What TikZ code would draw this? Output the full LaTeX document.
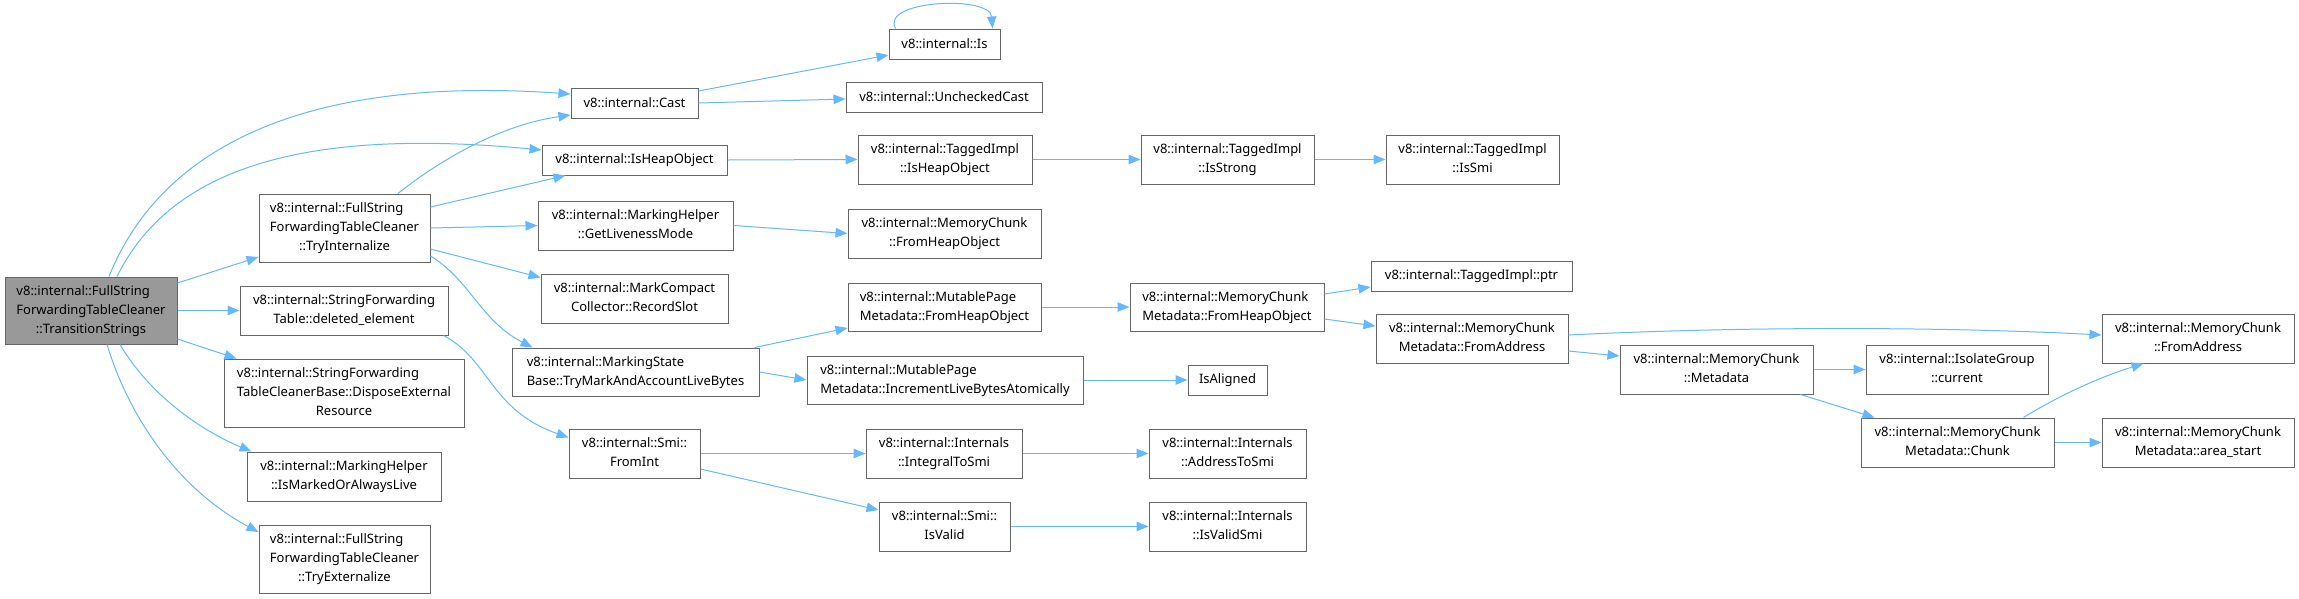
\documentclass[tikz,border=0pt]{standalone}
\usepackage{fontspec}
\setmainfont{Noto Sans}
\usetikzlibrary{arrows.meta}
\definecolor{edgec}{HTML}{63B8FF}
\definecolor{boxc}{HTML}{666666}
\definecolor{rootc}{HTML}{999999}
\newcommand\twol[2]{\begin{tabular}{@{}l@{}}#1\\\multicolumn{1}{@{}c@{}}{#2}\end{tabular}}
\newcommand\threel[3]{\begin{tabular}{@{}l@{}}#1\\#2\\\multicolumn{1}{@{}c@{}}{#3}\end{tabular}}
\tikzset{
  fn/.style={draw=boxc, line width=1pt, fill=white, inner sep=0pt, font=\fontsize{13}{19}\selectfont, align=center},
  rootfn/.style={fn, fill=rootc},
  call/.style={draw=edgec, line width=1pt, -{Triangle[length=12pt,width=9.5pt]}},
}
\begin{document}
\begin{tikzpicture}[x=1pt,y=-1pt]
\useasboundingbox (0,0) rectangle (2299,598);
% nodes
\node[rootfn, minimum width=172pt, minimum height=67pt] (ts) at (91,310.5) {\threel{v8::internal::FullString}{ForwardingTableCleaner}{::TransitionStrings}};
\node[fn, minimum width=127pt, minimum height=30pt] (cast) at (634.5,103) {v8::internal::Cast};
\node[fn, minimum width=185pt, minimum height=30pt] (ihob) at (634.5,160) {v8::internal::IsHeapObject};
\node[fn, minimum width=171pt, minimum height=68pt] (tint) at (344.5,228) {\threel{v8::internal::FullString}{ForwardingTableCleaner}{::TryInternalize}};
\node[fn, minimum width=195pt, minimum height=49pt] (glm) at (635.5,225.5) {\twol{v8::internal::MarkingHelper}{::GetLivenessMode}};
\node[fn, minimum width=187pt, minimum height=49pt] (rslot) at (634.5,298.5) {\twol{v8::internal::MarkCompact}{Collector::RecordSlot}};
\node[fn, minimum width=208pt, minimum height=49pt] (del) at (344,310.5) {\twol{v8::internal::StringForwarding}{Table::deleted\_element}};
\node[fn, minimum width=240pt, minimum height=68pt] (disp) at (344,393) {\threel{v8::internal::StringForwarding}{TableCleanerBase::DisposeExternal}{Resource}};
\node[fn, minimum width=194pt, minimum height=49pt] (imoal) at (344,476.5) {\twol{v8::internal::MarkingHelper}{::IsMarkedOrAlwaysLive}};
\node[fn, minimum width=171pt, minimum height=68pt] (text) at (344.5,559) {\threel{v8::internal::FullString}{ForwardingTableCleaner}{::TryExternalize}};
\node[fn, minimum width=247pt, minimum height=48pt] (mstate) at (635.5,372) {\twol{v8::internal::MarkingState}{Base::TryMarkAndAccountLiveBytes}};
\node[fn, minimum width=131pt, minimum height=49pt] (fromint) at (634.5,453.5) {\twol{v8::internal::Smi::}{FromInt}};
\node[fn, minimum width=111pt, minimum height=30pt] (is) at (944.5,44) {v8::internal::Is};
\node[fn, minimum width=196pt, minimum height=30pt] (ucast) at (944,97) {v8::internal::UncheckedCast};
\node[fn, minimum width=174pt, minimum height=49pt] (tiho) at (945,159.5) {\twol{v8::internal::TaggedImpl}{::IsHeapObject}};
\node[fn, minimum width=173pt, minimum height=49pt] (tistr) at (1227.5,159.5) {\twol{v8::internal::TaggedImpl}{::IsStrong}};
\node[fn, minimum width=173pt, minimum height=49pt] (tismi) at (1472.5,159.5) {\twol{v8::internal::TaggedImpl}{::IsSmi}};
\node[fn, minimum width=193pt, minimum height=49pt] (mcfho) at (944.5,233.5) {\twol{v8::internal::MemoryChunk}{::FromHeapObject}};
\node[fn, minimum width=193pt, minimum height=48pt] (mpfho) at (944.5,307) {\twol{v8::internal::MutablePage}{Metadata::FromHeapObject}};
\node[fn, minimum width=194pt, minimum height=48pt] (mcmfho) at (1227,307) {\twol{v8::internal::MemoryChunk}{Metadata::FromHeapObject}};
\node[fn, minimum width=201pt, minimum height=30pt] (ptr) at (1471.5,276) {v8::internal::TaggedImpl::ptr};
\node[fn, minimum width=192pt, minimum height=49pt] (mcmfa) at (1472,338.5) {\twol{v8::internal::MemoryChunk}{Metadata::FromAddress}};
\node[fn, minimum width=276pt, minimum height=48pt] (ilba) at (945,380) {\twol{v8::internal::MutablePage}{Metadata::IncrementLiveBytesAtomically}};
\node[fn, minimum width=79pt, minimum height=30pt] (isal) at (1227.5,380) {IsAligned};
\node[fn, minimum width=156pt, minimum height=49pt] (its) at (944,453.5) {\twol{v8::internal::Internals}{::IntegralToSmi}};
\node[fn, minimum width=157pt, minimum height=49pt] (ats) at (1227.5,453.5) {\twol{v8::internal::Internals}{::AddressToSmi}};
\node[fn, minimum width=131pt, minimum height=49pt] (isvalid) at (944.5,526.5) {\twol{v8::internal::Smi::}{IsValid}};
\node[fn, minimum width=157pt, minimum height=49pt] (ivs) at (1227.5,526.5) {\twol{v8::internal::Internals}{::IsValidSmi}};
\node[fn, minimum width=193pt, minimum height=49pt] (meta) at (1716.5,369.5) {\twol{v8::internal::MemoryChunk}{::Metadata}};
\node[fn, minimum width=182pt, minimum height=49pt] (igc) at (1957,369.5) {\twol{v8::internal::IsolateGroup}{::current}};
\node[fn, minimum width=193pt, minimum height=49pt] (chunk) at (1957.5,442.5) {\twol{v8::internal::MemoryChunk}{Metadata::Chunk}};
\node[fn, minimum width=192pt, minimum height=49pt] (mcfa) at (2198,338.5) {\twol{v8::internal::MemoryChunk}{::FromAddress}};
\node[fn, minimum width=192pt, minimum height=49pt] (area) at (2198,442.5) {\twol{v8::internal::MemoryChunk}{Metadata::area\_start}};
% edges from root
\draw[call] ([shift={(18,0)}]ts.north) .. controls (160,150) and (300,75) .. ([shift={(0,-9)}]cast.west);
\draw[call] ([shift={(26,0)}]ts.north) .. controls (165,180) and (280,125) .. ([shift={(0,-10)}]ihob.west);
\draw[call] ([shift={(0,-27.5)}]ts.east) -- ([shift={(0,29)}]tint.west);
\draw[call] (ts.east) -- (del.west);
\draw[call] ([shift={(0,28.5)}]ts.east) -- ([shift={(13,0)}]disp.north west);
\draw[call] ([shift={(29,0)}]ts.south) .. controls (150,395) and (200,430) .. ([shift={(5,0)}]imoal.north west);
\draw[call] ([shift={(16,0)}]ts.south) .. controls (130,420) and (180,490) .. ([shift={(0,-27)}]text.west);
% from TryInternalize
\draw[call] ([shift={(53.5,0)}]tint.north) .. controls (440,160) and (500,125) .. ([shift={(0,12)}]cast.west);
\draw[call] ([shift={(0,-21)}]tint.east) -- ([shift={(24,0)}]ihob.south west);
\draw[call] (tint.east) -- (glm.west);
\draw[call] ([shift={(0,21)}]tint.east) -- ([shift={(0,-21)}]rslot.west);
\draw[call] ([shift={(0,28)}]tint.east) .. controls (470,280) and (480,320) .. ([shift={(21,0)}]mstate.north west);
% others
\draw[call] ([shift={(0,-12)}]cast.east) -- ([shift={(0,11)}]is.west);
\draw[call] (cast.east) -- ([shift={(0,2)}]ucast.west);
\draw[call] ([shift={(7,0)}]is.north west) .. controls (880,0) and (990,-5) .. ([shift={(-8,0)}]is.north east);
\draw[call] (ihob.east) -- (tiho.west);
\draw[call] (tiho.east) -- (tistr.west);
\draw[call] (tistr.east) -- (tismi.west);
\draw[call] (glm.east) -- (mcfho.west);
\draw[call] ([shift={(-5,0)}]del.south east) .. controls (490,360) and (490,410) .. ([shift={(0,-16)}]fromint.west);
\draw[call] ([shift={(-5,0)}]mstate.north east) -- ([shift={(0,21)}]mpfho.west);
\draw[call] (mstate.east) -- (ilba.west);
\draw[call] (mpfho.east) -- (mcmfho.west);
\draw[call] ([shift={(0,-13)}]mcmfho.east) -- ([shift={(0,11)}]ptr.west);
\draw[call] ([shift={(0,12)}]mcmfho.east) -- ([shift={(0,-12.5)}]mcmfa.west);
\draw[call] (ilba.east) -- (isal.west);
\draw[call] (fromint.east) -- (its.west);
\draw[call] ([shift={(0,15.5)}]fromint.east) -- ([shift={(0,-16.5)}]isvalid.west);
\draw[call] (its.east) -- (ats.west);
\draw[call] (isvalid.east) -- (ivs.west);
\draw[call] ([shift={(0,-3.5)}]mcmfa.east) .. controls (1750,326) and (1950,327) .. ([shift={(0,-3.5)}]mcfa.west);
\draw[call] ([shift={(0,12.5)}]mcmfa.east) -- ([shift={(0,-13.5)}]meta.west);
\draw[call] (meta.east) -- (igc.west);
\draw[call] ([shift={(-13,0)}]meta.south east) -- ([shift={(14,0)}]chunk.north west);
\draw[call] ([shift={(-31,0)}]chunk.north east) .. controls (2060,395) and (2100,377) .. ([shift={(42,0)}]mcfa.south west);
\draw[call] (chunk.east) -- (area.west);
\end{tikzpicture}
\end{document}
